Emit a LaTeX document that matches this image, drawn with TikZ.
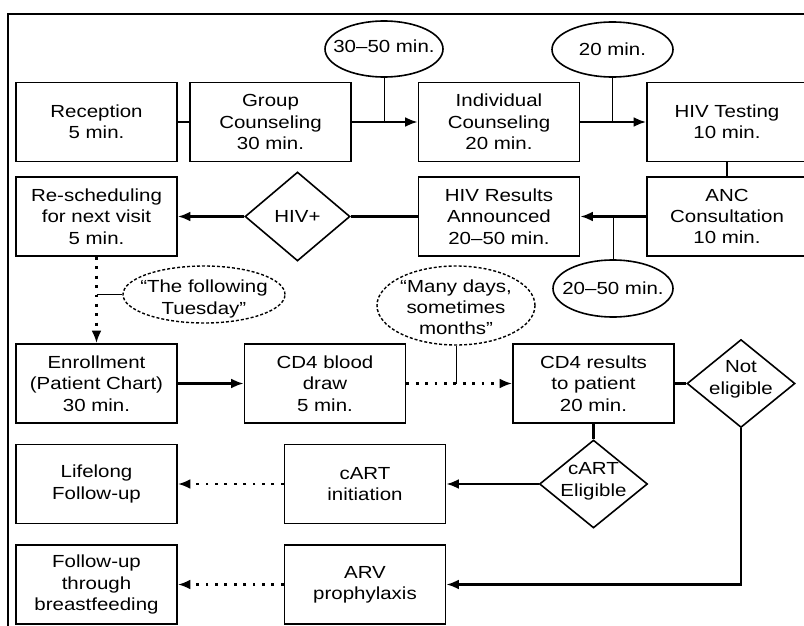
\documentclass[tikz,border=0pt]{standalone}
\usepackage{fontspec}
\setmainfont{Liberation Sans}[FakeStretch=1.17]
\usetikzlibrary{shapes.geometric,arrows.meta}

% text of a fixed-size shape: takes no room, so the shape keeps its size
\newcommand\ztxt[2][0pt]{\raisebox{#1}[0pt][0pt]{\makebox[0pt]{\begin{tabular}{@{}c@{}}#2\end{tabular}}}}

\begin{document}
\begin{tikzpicture}[x=1pt,y=-1pt,
  txt/.style={font=\fontsize{17.5}{21.3}\selectfont},
  box/.style={txt, align=center, draw, line width=1.8pt,
    minimum width=161pt, minimum height=79pt, inner sep=0pt},
  dia/.style={txt, draw, shape=diamond, line width=1.6pt, inner sep=0pt},
  oval/.style={txt, draw, ellipse, line width=1.6pt, inner sep=0pt},
  doval/.style={txt, draw, ellipse, line width=1.4pt,
    dash pattern=on 3pt off 2pt, inner sep=0pt},
  flow/.style={line width=2.4pt},
  arr/.style={flow, -{Latex[length=12.5pt,width=10pt]}},
  dots/.style={line width=2.8pt, dash pattern=on 2.8pt off 6.6pt},
  darr/.style={dots, -{Latex[length=12.5pt,width=10pt]}},
  tick/.style={line width=1pt}]

\fill[white] (0,0) rectangle (804,626);
\clip (0,0) rectangle (804,626);

% outer frame
\draw[line width=2.3pt] (8,700) -- (8,14) -- (900,14);

% time ovals
\node[oval, minimum width=118pt, minimum height=56pt] (e1) at (384,49) {\ztxt[-4pt]{30–50 min.}};
\node[oval, minimum width=121pt, minimum height=55pt] (e2) at (612.5,49.5) {\ztxt[-6pt]{20 min.}};
\node[oval, minimum width=120pt, minimum height=57pt] (e3) at (613,288.5) {\ztxt[-6pt]{20–50 min.}};
\node[doval, minimum width=162pt, minimum height=57pt] (q1) at (204,294.5) {\ztxt[-9pt]{“The following\\Tuesday”}};
\node[doval, minimum width=158pt, minimum height=79pt] (q2) at (456,305.5) {\ztxt[-8pt]{“Many days,\\sometimes\\months”}};

% steps
\node[box] (rec) at (96.5,122) {Reception\\5 min.};
\node[box] (grp) at (270.5,122) {Group\\Counseling\\30 min.};
\node[box] (ind) at (499,122) {Individual\\Counseling\\20 min.};
\node[box, minimum width=160pt] (hivt) at (727,122) {HIV Testing\\10 min.};
\node[box, minimum width=160pt] (anc) at (727,216.5) {ANC\\Consultation\\10 min.};
\node[box] (res) at (499,216.5) {HIV Results\\Announced\\20–50 min.};
\node[dia, minimum width=105pt, minimum height=89pt] (hiv) at (297.5,216.5) {\ztxt[-6pt]{HIV+}};
\node[box] (resch) at (96.5,216.5) {Re-scheduling\\for next visit\\5 min.};
\node[box] (enr) at (96.5,383.5) {Enrollment\\(Patient Chart)\\30 min.};
\node[box] (cdd) at (325,383.5) {CD4 blood\\draw\\5 min.};
\node[box] (cdr) at (593.5,383.5) {CD4 results\\to patient\\20 min.};
\node[dia, minimum width=108pt, minimum height=88pt] (nel) at (741,383.5) {\ztxt{Not\\eligible}};
\node[dia, minimum width=108pt, minimum height=88pt] (cel) at (593.5,484) {\ztxt[-1.5pt]{cART\\Eligible}};
\node[box] (cart) at (365,484) {cART\\initiation};
\node[box] (life) at (96.5,484) {Lifelong\\Follow-up};
\node[box] (arv) at (365,584.5) {ARV\\prophylaxis};
\node[box] (fol) at (96.5,584.5) {Follow-up\\through\\breastfeeding};

% connectors
\draw[flow] (rec) -- (grp);
\draw[arr] (grp) -- (ind);
\draw[tick] (e1.south) -- (e1.south |- grp.east);
\draw[arr] (ind) -- (hivt);
\draw[tick] (e2.south) -- (e2.south |- ind.east);
\draw[flow] (hivt.south -| anc.north) -- (anc.north);
\draw[arr] (anc) -- (res);
\draw[tick] (e3.north |- anc.west) -- (e3.north);
\draw[flow] (res) -- (hiv);
\draw[arr] (hiv) -- (resch);
\draw[darr] (resch) -- (enr);
\draw[tick] (resch.south |- q1.west) -- (q1.west);
\draw[arr] (enr) -- (cdd);
\draw[darr] (cdd) -- (cdr);
\draw[tick] (q2.south) -- (q2.south |- cdd.east);
\draw[flow] (cdr) -- (nel);
\draw[flow] (cdr.south) -- (cel.north);
\draw[arr] (cel) -- (cart);
\draw[darr] (cart) -- (life);
\draw[arr] (nel.south) |- (arv.east);
\draw[darr] (arv) -- (fol);
\end{tikzpicture}
\end{document}
